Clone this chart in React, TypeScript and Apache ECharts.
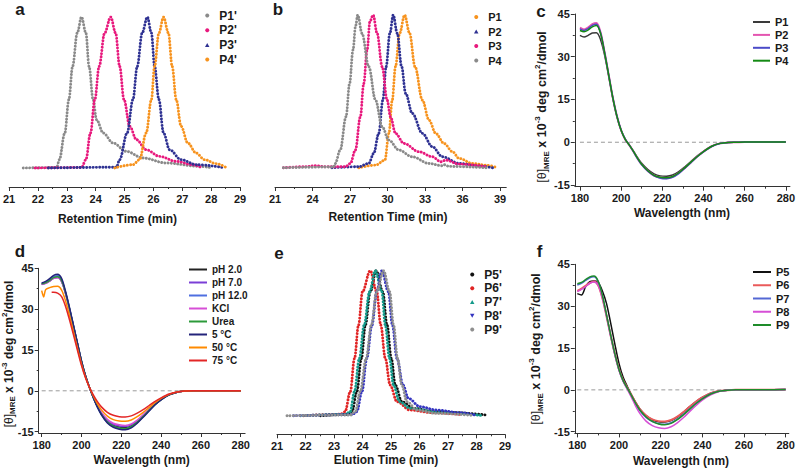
import React, { useEffect, useRef } from 'react';
import * as echarts from 'echarts';

const W = 798;
const H = 470;
const FONT = "'Liberation Sans', Arial, Helvetica, sans-serif";
const AX = '#333333';
const TXT = '#1a1a1a';

// ---------------- Panel a (SEC, normalized) ----------------
const aNames = ["P1'", "P2'", "P3'", "P4'"];
const aColors = ['#8a8a8a', '#e8197d', '#2e3192', '#f7931e'];
const aIcons = ['circle', 'circle', 'path://M5,0L10,9L0,9Z', 'circle'];
const aP1 = [[21.49, 0], [22.65, 0.003], [22.74, 0.055], [22.93, 0.232], [23.07, 0.453], [23.2, 0.673], [23.36, 0.894], [23.51, 1.0], [23.66, 0.894], [23.77, 0.673], [23.91, 0.453], [24.03, 0.32], [24.26, 0.232], [24.6, 0.166], [25.06, 0.11], [25.64, 0.066], [26.44, 0.033], [27.59, 0.011], [27.94, 0.004]];
const aP2 = [[21.9, 0], [23.51, 0.003], [23.66, 0.055], [23.82, 0.232], [23.97, 0.453], [24.12, 0.673], [24.31, 0.894], [24.52, 1.0], [24.69, 0.894], [24.83, 0.673], [24.98, 0.453], [25.18, 0.276], [25.41, 0.188], [25.75, 0.121], [26.21, 0.077], [26.79, 0.044], [27.36, 0.022], [27.65, 0.004]];
const aP3 = [[22.36, 0], [24.72, 0.005], [24.83, 0.055], [25.09, 0.232], [25.29, 0.453], [25.44, 0.673], [25.61, 0.894], [25.79, 1.0], [25.93, 0.894], [26.04, 0.673], [26.19, 0.453], [26.35, 0.232], [26.56, 0.121], [26.96, 0.055], [27.48, 0.022], [28.4, 0.004]];
const aP4 = [[24.66, 0], [25.29, 0.022], [25.52, 0.055], [25.75, 0.232], [25.93, 0.453], [26.04, 0.673], [26.19, 0.894], [26.35, 1.0], [26.52, 0.894], [26.65, 0.673], [26.79, 0.453], [26.96, 0.276], [27.19, 0.166], [27.48, 0.099], [27.77, 0.055], [28.17, 0.029], [28.55, 0]];
const aTicks = [21, 22, 23, 24, 25, 26, 27, 28, 29];
const aMinor = [21.5, 22.5, 23.5, 24.5, 25.5, 26.5, 27.5, 28.5];

// ---------------- Panel b ----------------
const bNames = ['P1', 'P2', 'P3', 'P4'];
const bColors = ['#f7931e', '#2e3192', '#e8197d', '#8a8a8a'];
const bIcons = ['circle', 'path://M5,0L10,9L0,9Z', 'circle', 'circle'];
const bP1 = [[27.7, 0], [29.04, 0.017], [29.79, 0.05], [30.11, 0.225], [30.38, 0.443], [30.64, 0.662], [30.97, 0.88], [31.37, 1.0], [31.77, 0.88], [32.2, 0.662], [32.79, 0.443], [33.32, 0.312], [33.86, 0.225], [34.53, 0.159], [35.2, 0.105], [35.73, 0.061], [36.8, 0.028], [37.88, 0.017], [38.81, 0]];
const bP2 = [[25.55, 0], [27.7, 0.007], [28.5, 0.028], [28.9, 0.094], [29.3, 0.225], [29.63, 0.443], [29.89, 0.662], [30.19, 0.88], [30.46, 1.0], [30.78, 0.88], [31.13, 0.662], [31.45, 0.487], [31.98, 0.356], [32.79, 0.225], [33.59, 0.138], [34.39, 0.072], [35.73, 0.028], [37.34, 0.011], [38.41, 0]];
const bP3 = [[21.67, 0], [23.41, 0.007], [24.21, 0.013], [25.02, 0.007], [26.63, 0.007], [27.03, 0.028], [27.43, 0.116], [27.83, 0.334], [28.1, 0.552], [28.37, 0.771], [28.6, 0.96], [28.85, 1.0], [29.17, 0.88], [29.57, 0.662], [29.97, 0.443], [30.24, 0.334], [30.64, 0.225], [31.31, 0.159], [32.52, 0.105], [33.59, 0.072], [34.26, 0.039], [34.66, 0.05], [35.73, 0.024], [37.88, 0.007]];
const bP4 = [[21.67, 0], [25.69, 0.005], [25.82, 0.028], [26.22, 0.116], [26.68, 0.334], [26.97, 0.552], [27.24, 0.771], [27.45, 0.93], [27.62, 1.0], [27.96, 0.88], [28.5, 0.662], [29.04, 0.443], [29.57, 0.269], [30.11, 0.181], [30.91, 0.116], [31.98, 0.072], [33.32, 0.028], [34.39, 0.013], [34.53, 0.02], [34.93, 0.009], [37.88, 0]];
const bTicks = [21, 24, 27, 30, 33, 36, 39];
const bMinor = [22.5, 25.5, 28.5, 31.5, 34.5, 37.5];

// ---------------- Panel e ----------------
const eNames = ["P5'", "P6'", "P7'", "P8'", "P9'"];
const eColors = ['#111111', '#e02424', '#139a8a', '#3434c0', '#8f8f8f'];
const eIcons = ['circle', 'circle', 'path://M5,0L10,9L0,9Z', 'path://M0,0L10,0L5,9Z', 'circle'];
const eP5 = [[22.52, 0], [23.45, 0.009], [23.63, 0.028], [23.8, 0.166], [23.96, 0.395], [24.1, 0.625], [24.27, 0.855], [24.48, 1.0], [24.71, 0.855], [24.86, 0.625], [25.01, 0.395], [25.15, 0.211], [25.38, 0.097], [25.79, 0.051], [26.49, 0.028], [28.36, 0.005]];
const eP6 = [[21.93, 0], [23.22, 0.01], [23.39, 0.028], [23.57, 0.166], [23.72, 0.395], [23.86, 0.625], [24.0, 0.855], [24.27, 1.0], [24.5, 0.855], [24.64, 0.625], [24.8, 0.395], [24.97, 0.211], [25.21, 0.097], [25.67, 0.039], [26.49, 0.021], [27.43, 0.009]];
const eP7 = [[21.82, 0], [23.39, 0.009], [23.57, 0.028], [23.72, 0.166], [23.89, 0.395], [24.06, 0.625], [24.25, 0.855], [24.45, 1.0], [24.68, 0.855], [24.8, 0.625], [24.95, 0.395], [25.09, 0.211], [25.3, 0.097], [25.67, 0.051], [26.72, 0.023], [28.18, 0.002]];
const eP8 = [[21.58, 0], [23.63, 0.007], [23.8, 0.028], [23.98, 0.166], [24.15, 0.395], [24.33, 0.625], [24.5, 0.855], [24.68, 1.0], [24.91, 0.855], [25.05, 0.625], [25.21, 0.395], [25.42, 0.211], [25.61, 0.12], [26.02, 0.062], [26.61, 0.039], [27.43, 0.021], [27.95, 0.005]];
const eP9 = [[21.35, 0], [23.57, 0.005], [23.75, 0.028], [23.92, 0.166], [24.13, 0.395], [24.31, 0.625], [24.5, 0.855], [24.74, 1.0], [24.95, 0.855], [25.09, 0.625], [25.23, 0.395], [25.38, 0.211], [25.56, 0.097], [25.91, 0.039], [26.61, 0.016], [27.89, 0.002]];
const eTicks = [21, 22, 23, 24, 25, 26, 27, 28, 29];
const eMinor = [21.5, 22.5, 23.5, 24.5, 25.5, 26.5, 27.5, 28.5];

// ---------------- CD panels ----------------
const wl = [180, 182, 184, 186, 188, 190, 192, 194, 196, 198, 200, 202, 204, 206, 208, 210, 213, 216, 219, 222, 225, 228, 231, 234, 237, 240, 244, 248, 252, 256, 260, 270, 280];
const cdTicksX = [180, 200, 220, 240, 260, 280];
const cdMinorX = [190, 210, 230, 250, 270];
const cdTicksY = [-15, 0, 15, 30, 45];
const cdMinorY = [-7.5, 7.5, 22.5, 37.5];

// Panel c
const cNames = ['P1', 'P2', 'P3', 'P4'];
const cColors = ['#3a3a3a', '#e455b0', '#4b4bc8', '#148a14'];
const cP1 = [37.5, 36.9, 37.5, 38.3, 38.4, 36.0, 30.5, 23.0, 15.2, 8.8, 4.1, 1.0, -1.0, -3.1, -5.4, -7.4, -9.6, -11.1, -11.8, -11.9, -11.5, -10.3, -8.6, -6.7, -4.8, -3.2, -1.4, -0.4, -0.05, 0.0, 0.05, 0.05, 0.1];
const cP2 = [40.2, 39.6, 40.3, 41.4, 41.8, 38.6, 31.5, 23.5, 15.5, 9.0, 4.2, 1.0, -1.0, -3.3, -5.7, -7.8, -10.1, -11.7, -12.4, -12.6, -12.1, -10.8, -9.0, -7.0, -5.0, -3.3, -1.4, -0.4, -0.05, 0.0, 0.05, 0.05, 0.1];
const cP3 = [39.8, 39.2, 39.9, 41.0, 41.4, 38.4, 31.4, 23.5, 15.6, 9.1, 4.3, 1.1, -1.0, -3.3, -5.8, -7.9, -10.2, -11.8, -12.6, -12.8, -12.3, -11.0, -9.1, -7.1, -5.1, -3.4, -1.5, -0.45, -0.05, 0.0, 0.05, 0.05, 0.1];
const cP4 = [39.2, 38.8, 39.4, 40.5, 41.0, 38.2, 31.3, 23.4, 15.5, 9.0, 4.2, 1.0, -1.0, -3.2, -5.6, -7.7, -10.0, -11.6, -12.3, -12.5, -12.0, -10.7, -8.9, -6.9, -5.0, -3.3, -1.4, -0.4, -0.05, 0.0, 0.05, 0.05, 0.1];

// Panel d
const dNames = ['pH 2.0', 'pH 7.0', 'pH 12.0', 'KCl', 'Urea', '5 °C', '50 °C', '75 °C'];
const dColors = ['#222222', '#7b3fd6', '#4f6fe0', '#d64fd6', '#2c9a3a', '#24247a', '#ff8a00', '#e32626'];
const dPH2 = [39.2, 39.6, 40.4, 41.4, 41.7, 40.3, 35.8, 30.0, 23.6, 17.2, 10.8, 5.5, 1.2, -2.5, -5.8, -8.5, -11.3, -12.7, -13.3, -13.5, -12.9, -11.3, -9.2, -7.0, -4.9, -3.2, -1.4, -0.5, -0.1, 0, 0, 0, 0];
const dPH7 = [39.0, 39.5, 40.3, 41.3, 41.6, 40.2, 35.7, 29.9, 23.5, 17.1, 10.7, 5.4, 1.2, -2.4, -5.6, -8.2, -10.9, -12.3, -12.9, -13.1, -12.5, -11.0, -9.0, -6.8, -4.8, -3.1, -1.4, -0.5, -0.1, 0, 0, 0, 0];
const dPH12 = [39.4, 39.9, 40.8, 42.0, 42.3, 40.9, 36.2, 30.3, 23.8, 17.3, 10.9, 5.5, 1.2, -2.6, -5.9, -8.7, -11.6, -13.1, -13.8, -14.0, -13.3, -11.7, -9.5, -7.2, -5.0, -3.2, -1.5, -0.5, -0.1, 0, 0, 0, 0];
const dKCl = [39.1, 39.5, 40.3, 41.3, 41.5, 40.1, 35.6, 29.8, 23.4, 17.0, 10.6, 5.3, 1.1, -2.3, -5.4, -7.9, -10.5, -11.9, -12.5, -12.7, -12.2, -10.8, -8.8, -6.7, -4.7, -3.0, -1.4, -0.5, -0.1, 0, 0, 0, 0];
const dUrea = [39.3, 39.7, 40.5, 41.6, 41.9, 40.5, 36.0, 30.1, 23.7, 17.3, 10.9, 5.5, 1.2, -2.5, -5.8, -8.6, -11.5, -13.0, -13.7, -13.9, -13.2, -11.6, -9.4, -7.1, -5.0, -3.2, -1.5, -0.5, -0.1, 0, 0, 0, 0];
const d5C = [39.6, 40.2, 41.2, 42.4, 42.8, 41.3, 36.5, 30.5, 24.0, 17.5, 11.0, 5.6, 1.2, -2.6, -6.0, -8.8, -11.8, -13.4, -14.1, -14.3, -13.6, -11.9, -9.7, -7.4, -5.1, -3.3, -1.5, -0.5, -0.1, 0, 0, 0, 0];
const d50C = [[180, 36.8], [181, 34.5], [182, 37.2], [184, 37.9], [186, 38.3], [188, 38.4], [190, 37.0], [192, 33.0], [194, 27.5], [196, 21.5], [198, 15.6], [200, 9.8], [202, 5.0], [204, 1.2], [206, -2.0], [208, -4.8], [210, -7.0], [213, -9.3], [216, -10.6], [219, -11.1], [222, -11.2], [225, -10.7], [228, -9.5], [231, -7.9], [234, -6.1], [237, -4.3], [240, -2.8], [244, -1.3], [248, -0.4], [252, -0.1], [256, 0], [260, 0], [270, 0], [280, 0]];
const d75C = [[185, 36.2], [186, 36.2], [188, 35.9], [190, 34.6], [192, 31.0], [194, 26.0], [196, 20.5], [198, 14.8], [200, 9.3], [202, 4.8], [204, 1.3], [206, -1.6], [208, -4.0], [210, -5.9], [213, -7.9], [216, -9.0], [219, -9.5], [222, -9.6], [225, -9.2], [228, -8.2], [231, -6.9], [234, -5.4], [237, -3.9], [240, -2.6], [244, -1.2], [248, -0.4], [252, -0.1], [256, 0], [260, 0], [270, 0], [280, 0]];

// Panel f
const fNames = ['P5', 'P6', 'P7', 'P8', 'P9'];
const fColors = ['#111111', '#ea5a5a', '#5468d4', '#d64fd6', '#1e8c2a'];
const fP5 = [34.5, 34.0, 37.0, 38.8, 39.0, 38.6, 35.5, 31.0, 24.0, 16.5, 9.5, 4.5, 1.2, -1.8, -4.5, -6.8, -9.2, -10.7, -11.4, -11.5, -11.0, -9.8, -8.0, -6.0, -4.2, -2.7, -1.2, -0.4, -0.1, 0, 0, 0, 0.1];
const fP6 = [35.5, 36.3, 37.3, 38.3, 38.8, 37.5, 33.0, 26.5, 19.5, 13.0, 7.5, 3.5, 0.8, -1.9, -4.6, -6.9, -9.2, -10.6, -11.2, -11.3, -10.8, -9.6, -7.9, -6.0, -4.2, -2.7, -1.2, -0.4, -0.1, 0, 0, 0, 0.1];
const fP7 = [37.6, 38.2, 39.2, 40.2, 40.5, 38.8, 33.8, 26.8, 19.5, 12.8, 7.2, 3.2, 0.5, -2.2, -5.0, -7.4, -9.9, -11.4, -12.1, -12.3, -11.8, -10.5, -8.7, -6.7, -4.8, -3.1, -1.4, -0.5, -0.1, 0, 0, 0, 0.1];
const fP8 = [35.2, 36.0, 37.0, 38.2, 38.7, 37.5, 33.0, 26.5, 19.3, 12.6, 7.0, 3.0, 0.2, -2.7, -5.8, -8.4, -11.2, -12.8, -13.6, -13.8, -13.2, -11.8, -9.9, -7.7, -5.6, -3.7, -1.8, -0.6, -0.1, 0, 0, 0, 0.1];
const fP9 = [38.0, 38.5, 39.5, 40.5, 40.8, 39.0, 34.0, 27.0, 19.7, 13.0, 7.3, 3.3, 0.6, -2.1, -4.8, -7.2, -9.7, -11.3, -12.2, -12.5, -12.0, -10.7, -8.9, -6.9, -4.9, -3.2, -1.5, -0.5, -0.1, 0, 0, 0, 0.1];

const zeroLine = [[180, 0], [280, 0]];

// ---------------- helpers ----------------
const zip = (xs: number[], ys: number[]) => xs.map((x, i) => [x, ys[i]]);

function xAxes(min: number, max: number, majors: number[], minors: number[]) {
  return [
    {
      type: 'value', min, max, position: 'bottom',
      axisLine: { show: true, onZero: false, lineStyle: { color: AX, width: 1 } },
      axisTick: { show: true, inside: false, length: 4, customValues: majors, lineStyle: { color: AX, width: 1 } },
      axisLabel: { show: true, customValues: majors, margin: 6, color: TXT, fontSize: 11, fontWeight: 'bold', fontFamily: FONT },
      splitLine: { show: false },
    },
    {
      type: 'value', min, max, position: 'bottom',
      axisLine: { show: false, onZero: false },
      axisTick: { show: true, inside: false, length: 2, customValues: minors, lineStyle: { color: AX, width: 1 } },
      axisLabel: { show: false },
      splitLine: { show: false },
    },
  ];
}

function cdYAxes(min: number, max: number) {
  return [
    {
      type: 'value', min, max, position: 'left',
      axisLine: { show: true, onZero: false, lineStyle: { color: AX, width: 1 } },
      axisTick: { show: true, inside: false, length: 4, customValues: cdTicksY, lineStyle: { color: AX, width: 1 } },
      axisLabel: { show: true, customValues: cdTicksY, margin: 5, color: TXT, fontSize: 11, fontWeight: 'bold', fontFamily: FONT },
      splitLine: { show: false },
    },
    {
      type: 'value', min, max, position: 'left',
      axisLine: { show: false, onZero: false },
      axisTick: { show: true, inside: false, length: 2, customValues: cdMinorY, lineStyle: { color: AX, width: 1 } },
      axisLabel: { show: false },
      splitLine: { show: false },
    },
  ];
}

function hiddenY(min: number, max: number) {
  return [{ type: 'value', min, max, show: false, axisLine: { onZero: false }, splitLine: { show: false } }];
}

function text(x: number, y: number, t: string, size: number, extra: any = {}) {
  return {
    type: 'text', x, y, silent: true,
    style: { text: t, fill: TXT, fontFamily: FONT, fontSize: size, fontWeight: 'bold', align: 'center', verticalAlign: 'middle', ...extra },
  };
}

function yTitle(x: number, y: number, size: number) {
  const s = Math.round(size * 0.66);
  return {
    type: 'text', x, y, rotation: Math.PI / 2, silent: true,
    style: {
      text: '{a|[θ]}{b|MRE}{c| x 10}{d|-3}{c| deg cm}{d|2}{c|/dmol}',
      align: 'center', verticalAlign: 'middle', fill: TXT, fontFamily: FONT,
      rich: {
        a: { fontSize: size, fontWeight: 'normal', lineHeight: size + 4, fill: TXT, fontFamily: FONT },
        b: { fontSize: s, fontWeight: 'bold', lineHeight: s + 1, verticalAlign: 'bottom', fill: TXT, fontFamily: FONT },
        c: { fontSize: size, fontWeight: 'bold', lineHeight: size + 4, fill: TXT, fontFamily: FONT },
        d: { fontSize: s, fontWeight: 'bold', lineHeight: s + 1, verticalAlign: 'top', fill: TXT, fontFamily: FONT },
      },
    },
  };
}

function dotSeries(name: string, data: number[][], color: string) {
  return {
    type: 'line', name, data, symbol: 'none', showSymbol: false, smooth: 0.35, smoothMonotone: 'x',
    xAxisIndex: 0, yAxisIndex: 0, silent: true,
    itemStyle: { color },
    lineStyle: { color, width: 2.9, type: [0.1, 3.1], cap: 'round' },
  };
}

function cdSeries(name: string, data: number[][], color: string, width = 1.5) {
  return {
    type: 'line', name, data, symbol: 'none', showSymbol: false, smooth: 0.3,
    xAxisIndex: 0, yAxisIndex: 0, silent: true,
    itemStyle: { color },
    lineStyle: { color, width },
  };
}

function zeroSeries() {
  return {
    type: 'line', name: 'zero', data: zeroLine, symbol: 'none', silent: true,
    xAxisIndex: 0, yAxisIndex: 0, z: 1,
    lineStyle: { color: '#9a9a9a', width: 1, type: [4, 3] },
  };
}

function legend(left: number, top: number, names: string[], icons: string[], fontSize: number, gap: number, iw: number, ih: number) {
  return {
    left, top, orient: 'vertical', itemWidth: iw, itemHeight: ih, itemGap: gap,
    selectedMode: false, padding: 0,
    itemStyle: { borderWidth: 0 },
    textStyle: { color: TXT, fontSize, fontWeight: 'bold', fontFamily: FONT, lineHeight: fontSize + 1 },
    data: names.map((n, i) => ({ name: n, icon: icons[i] })),
  };
}

const base = { animation: false, backgroundColor: 'transparent' };

const optA = {
  ...base,
  grid: { left: 9, top: 17, width: 231, height: 170 },
  xAxis: xAxes(21, 29, aTicks, aMinor),
  yAxis: hiddenY(-0.126, 1),
  legend: legend(205, 9, aNames, aIcons, 12, 1.7, 14, 4),
  series: [aP1, aP2, aP3, aP4].map((d, i) => dotSeries(aNames[i], d, aColors[i])),
  graphic: [text(20, 9.5, 'a', 17), text(117.5, 219, 'Retention Time (min)', 12)],
};

const optB = {
  ...base,
  grid: { left: 275, top: 15, width: 231.25, height: 172 },
  xAxis: xAxes(21, 39.5, bTicks, bMinor),
  yAxis: hiddenY(-0.126, 1),
  legend: legend(474, 11, bNames, bIcons, 11, 2.5, 14, 4),
  series: [bP1, bP2, bP3, bP4].map((d, i) => dotSeries(bNames[i], d, bColors[i])),
  graphic: [text(278, 9.5, 'b', 17), text(388, 217, 'Retention Time (min)', 12)],
};

const optC = {
  ...base,
  grid: { left: 574.8, top: 14, width: 215.3, height: 172.7 },
  xAxis: xAxes(177.5, 282, cdTicksX, cdMinorX),
  yAxis: cdYAxes(-15.6, 45),
  legend: legend(753, 16, cNames, ['rect', 'rect', 'rect', 'rect'], 11, 0.9, 17, 2),
  series: [zeroSeries(), ...[cP1, cP2, cP3, cP4].map((d, i) => cdSeries(cNames[i], zip(wl, d), cColors[i], i === 1 ? 2 : 1.5))],
  graphic: [text(541, 11.5, 'c', 17), text(682, 213, 'Wavelength (nm)', 12), yTitle(542, 107, 12.5)],
};

const optD = {
  ...base,
  grid: { left: 38.7, top: 268.3, width: 206.4, height: 164.7 },
  xAxis: xAxes(178.5, 282.2, cdTicksX, cdMinorX),
  yAxis: cdYAxes(-15.5, 45),
  legend: legend(189, 264, dNames, dNames.map(() => 'rect'), 10, 2, 18, 2),
  series: [
    zeroSeries(),
    ...[dPH2, dPH7, dPH12, dKCl, dUrea, d5C].map((d, i) => cdSeries(dNames[i], zip(wl, d), dColors[i])),
    cdSeries(dNames[6], d50C, dColors[6]),
    cdSeries(dNames[7], d75C, dColors[7]),
  ],
  graphic: [text(20, 251, 'd', 17), text(141.7, 460, 'Wavelength (nm)', 12), yTitle(8.5, 354, 12)],
};

const optE = {
  ...base,
  grid: { left: 277, top: 270.7, width: 228, height: 163.6 },
  xAxis: xAxes(21, 29, eTicks, eMinor),
  yAxis: hiddenY(-0.128, 1),
  legend: legend(470, 268, eNames, eIcons, 12, 0.75, 14, 4),
  series: [eP5, eP6, eP7, eP8, eP9].map((d, i) => dotSeries(eNames[i], d, eColors[i])),
  graphic: [text(279, 253, 'e', 17), text(386, 460, 'Elution Time (min)', 12)],
};

const optF = {
  ...base,
  grid: { left: 574.8, top: 264.3, width: 214, height: 169.1 },
  xAxis: xAxes(178.8, 281.5, cdTicksX, cdMinorX),
  yAxis: cdYAxes(-15.6, 45),
  legend: legend(753, 266, fNames, fNames.map(() => 'rect'), 11, 1.25, 18, 2),
  series: [zeroSeries(), ...[fP5, fP6, fP7, fP8, fP9].map((d, i) => cdSeries(fNames[i], zip(wl, d), fColors[i], i === 1 ? 2 : 1.5))],
  graphic: [text(539.5, 251.5, 'f', 17), text(681, 461, 'Wavelength (nm)', 12), yTitle(536, 349, 12.5)],
};

const options = [optA, optB, optC, optD, optE, optF];

function Panel({ option }: { option: any }) {
  const ref = useRef<HTMLDivElement>(null);
  useEffect(() => {
    if (!ref.current) return;
    const chart = echarts.init(ref.current, undefined, { renderer: 'svg', width: W, height: H });
    chart.setOption(option);
    return () => chart.dispose();
  }, [option]);
  return <div ref={ref} style={{ position: 'absolute', left: 0, top: 0, width: W, height: H, pointerEvents: 'none' }} />;
}

export default function App() {
  return (
    <div style={{ position: 'absolute', left: 0, top: 0, width: W, height: H, background: '#ffffff', overflow: 'hidden' }}>
      {options.map((o, i) => (
        <Panel key={i} option={o} />
      ))}
    </div>
  );
}
